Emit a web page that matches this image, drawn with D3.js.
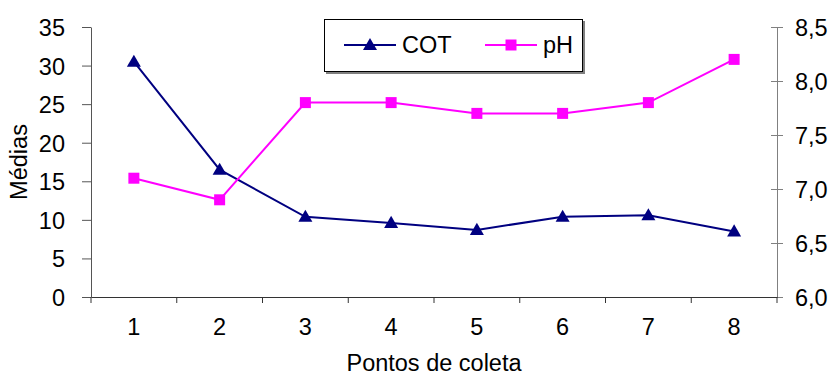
<!DOCTYPE html>
<html>
<head>
<meta charset="utf-8">
<script src="https://cdn.jsdelivr.net/npm/d3@7"></script>
<style>
  body { margin: 0; background: #fff; }
  text { font-family: "Liberation Sans", Arial, sans-serif; fill: #000; }
</style>
</head>
<body>
<div id="vis"></div>
<script>
const PONTOS = ['1', '2', '3', '4', '5', '6', '7', '8']
const COT = [30.5, 16.5, 10.4, 9.6, 8.7, 10.4, 10.6, 8.5]
const PH = [7.1, 6.9, 7.8, 7.8, 7.7, 7.7, 7.8, 8.2]
const LEFT_TICKS = [0, 5, 10, 15, 20, 25, 30, 35]
const RIGHT_TICKS = [6.0, 6.5, 7.0, 7.5, 8.0, 8.5]

const width = 834
const height = 375
const margin = {top: 27, right: 57, bottom: 78, left: 91}
const fontSize = 23.5

let svg = d3.select('#vis')
    .append('svg')
    .attr('width', width)
    .attr('height', height)

let x = d3.scaleBand()
    .domain(PONTOS)
    .range([margin.left, width - margin.right])

let yLeft = d3.scaleLinear()
    .domain([0, 35])
    .range([height - margin.bottom, margin.top])

let yRight = d3.scaleLinear()
    .domain([6, 8.5])
    .range([height - margin.bottom, margin.top])

let fmtComma = d => d3.format('.1f')(d).replace('.', ',')

// left axis
let gl = svg.append('g')
    .attr('transform', `translate(${margin.left},0)`)
    .call(d3.axisLeft(yLeft).tickValues(LEFT_TICKS).tickSize(9).tickPadding(17).tickSizeOuter(0))
gl.selectAll('text').style('font-size', fontSize + 'px').attr('dy', '0.36em')
gl.selectAll('line, path').attr('stroke', '#555')

// right axis, ticks cross the line
let gr = svg.append('g')
    .attr('transform', `translate(${width - margin.right},0)`)
    .call(d3.axisRight(yRight).tickValues(RIGHT_TICKS).tickFormat(fmtComma).tickSize(6).tickPadding(12).tickSizeOuter(0))
gr.selectAll('text').style('font-size', fontSize + 'px').attr('dy', '0.36em')
gr.selectAll('.tick line').attr('x1', -6)
gr.selectAll('line, path').attr('stroke', '#808080')

// bottom axis, ticks at category boundaries
let gb = svg.append('g')
    .attr('transform', `translate(0,${height - margin.bottom})`)
    .call(d3.axisBottom(x).tickSize(0).tickPadding(26).tickSizeOuter(0))
gb.selectAll('text').style('font-size', fontSize + 'px').attr('dy', '0.5em')
gb.select('path').attr('stroke', '#333')
gb.selectAll('.boundary')
    .data(PONTOS.concat(['end']))
    .enter().append('line')
    .attr('x1', (d, i) => margin.left + i * x.step())
    .attr('x2', (d, i) => margin.left + i * x.step())
    .attr('y1', 0)
    .attr('y2', 6)
    .attr('stroke', '#333')

// axis titles
svg.append('text')
    .attr('x', (margin.left + width - margin.right) / 2)
    .attr('y', 371)
    .attr('text-anchor', 'middle')
    .style('font-size', fontSize + 'px')
    .text('Pontos de coleta')

svg.append('text')
    .attr('transform', 'translate(27,162) rotate(-90)')
    .attr('text-anchor', 'middle')
    .style('font-size', fontSize + 'px')
    .text('Médias')

let cx = (d, i) => x(PONTOS[i]) + x.bandwidth() / 2

// COT line
svg.append('path')
    .datum(COT)
    .attr('fill', 'none')
    .attr('stroke', '#000080')
    .attr('stroke-width', 2)
    .attr('d', d3.line().x(cx).y(d => yLeft(d)))

// pH line
svg.append('path')
    .datum(PH)
    .attr('fill', 'none')
    .attr('stroke', '#ff00ff')
    .attr('stroke-width', 2)
    .attr('d', d3.line().x(cx).y(d => yRight(d)))

let tri = d3.symbol().type(d3.symbolTriangle).size(85)
let sq = d3.symbol().type(d3.symbolSquare).size(121)

svg.selectAll('.cot')
    .data(COT)
    .enter().append('path')
    .attr('d', tri)
    .attr('transform', (d, i) => `translate(${cx(d, i)},${yLeft(d) + 1})`)
    .attr('fill', '#000080')

svg.selectAll('.ph')
    .data(PH)
    .enter().append('path')
    .attr('d', sq)
    .attr('transform', (d, i) => `translate(${cx(d, i)},${yRight(d)})`)
    .attr('fill', '#ff00ff')

// legend
let lg = svg.append('g')
    .attr('transform', 'translate(324,19)')
lg.append('rect')
    .attr('x', 2).attr('y', 2)
    .attr('width', 259).attr('height', 53)
    .attr('fill', '#808080')
lg.append('rect')
    .attr('x', 0.5).attr('y', 0.5)
    .attr('width', 258).attr('height', 52)
    .attr('fill', '#fff')
    .attr('stroke', '#000')

let items = [
    {name: 'COT', color: '#000080', sym: tri, x: 20, dy: 1},
    {name: 'pH', color: '#ff00ff', sym: sq, x: 161, dy: 0}
]
let li = lg.selectAll('.item')
    .data(items)
    .enter().append('g')
    .attr('transform', d => `translate(${d.x},26)`)
li.append('line')
    .attr('x1', 0).attr('x2', 52)
    .attr('stroke', d => d.color)
    .attr('stroke-width', 2)
li.append('path')
    .attr('d', d => d.sym())
    .attr('transform', d => `translate(26,${d.dy})`)
    .attr('fill', d => d.color)
li.append('text')
    .attr('x', 58)
    .attr('dy', '0.36em')
    .style('font-size', fontSize + 'px')
    .text(d => d.name)
</script>
</body>
</html>
